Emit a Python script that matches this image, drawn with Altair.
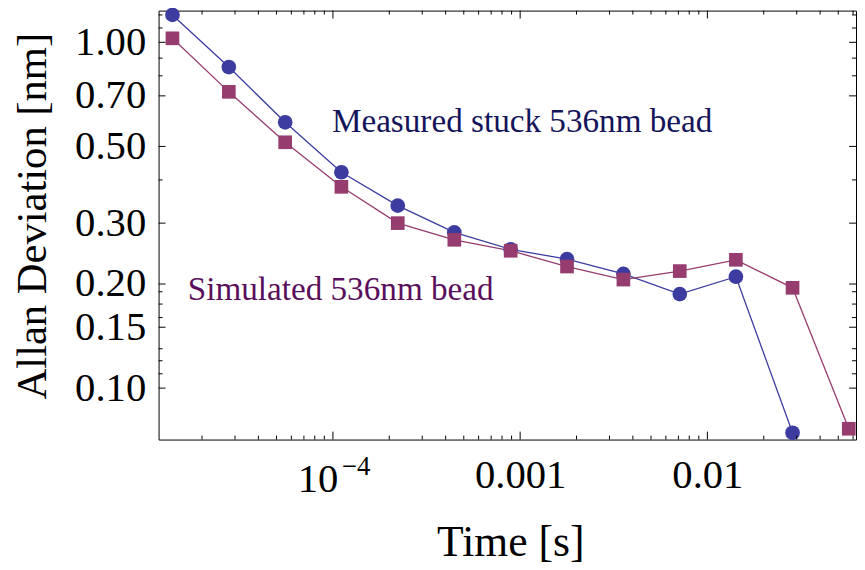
import altair as alt
import pandas as pd

# ---- data ----
time_s = [1.39e-5, 2.78e-5, 5.56e-5, 1.11e-4, 2.22e-4, 4.45e-4, 8.90e-4,
          1.78e-3, 3.56e-3, 7.12e-3, 1.42e-2, 2.85e-2, 5.69e-2]
measured = [1.20, 0.848, 0.587, 0.421, 0.337, 0.282, 0.252, 0.236, 0.214,
            0.187, 0.210, 0.0743]
simulated = [1.027, 0.719, 0.514, 0.382, 0.300, 0.2685, 0.2496, 0.2247, 0.206,
             0.218, 0.235, 0.195, 0.0763]

y_major = [0.10, 0.15, 0.20, 0.30, 0.50, 0.70, 1.00]
y_minor = [0.11, 0.12, 0.13, 0.16, 0.175, 0.19, 0.4, 0.8, 0.9, 1.1, 1.2]
x_major = [1e-4, 1e-3, 1e-2]
x_minor = [2e-5, 3e-5, 4e-5, 5e-5, 6e-5, 7e-5, 8e-5, 9e-5,
           2e-4, 3e-4, 4e-4, 5e-4, 6e-4, 7e-4, 8e-4, 9e-4,
           2e-3, 3e-3, 4e-3, 5e-3, 6e-3, 7e-3, 8e-3, 9e-3,
           2e-2, 3e-2, 4e-2, 5e-2, 6e-2]

ann_text = ["Measured stuck 536nm bead", "Simulated 536nm bead"]
ann_x = [1.025e-3, 1.10e-4]
ann_y = [0.552, 0.180]
ann_color = ["#14145a", "#5a0f5c"]

W, H = 704, 433
FONT = "Liberation Serif"
C_MEAS = "#3c3ca0"
C_SIM = "#963c6e"

df_meas = pd.DataFrame({"t": time_s[:len(measured)], "v": measured})
df_sim = pd.DataFrame({"t": time_s[:len(simulated)], "v": simulated})
df_ann = pd.DataFrame({"t": ann_x, "v": ann_y, "label": ann_text, "c": ann_color})

xs = alt.Scale(type="log", domain=[1.172e-5, 0.0622], nice=False)
ys = alt.Scale(type="log", domain=[0.0710, 1.235], nice=False)

x_axis = alt.Axis(values=x_major, ticks=False, domain=False, grid=False,
                  labelExpr="datum.value == 0.001 ? '0.001' : (datum.value == 0.01 ? '0.01' : '')",
                  labelFont=FONT, labelFontSize=41, labelColor="black",
                  labelBaseline="alphabetic", labelPadding=48,
                  title="Time [s]", titleFont=FONT, titleFontSize=44,
                  titleFontWeight="normal", titleColor="black",
                  titleBaseline="alphabetic", titleY=117, titleX=355)
y_axis = alt.Axis(values=y_major, format=".2f", ticks=False, domain=False, grid=False,
                  labelFont=FONT, labelFontSize=41, labelColor="black",
                  labelPadding=13,
                  title="Allan Deviation [nm]", titleFont=FONT, titleFontSize=43,
                  titleFontWeight="normal", titleColor="black",
                  titleBaseline="alphabetic", titleX=-114, titleY=207)


def X():
    return alt.X("t:Q", scale=xs, axis=x_axis)


def Y():
    return alt.Y("v:Q", scale=ys, axis=y_axis)


line_meas = alt.Chart(df_meas).mark_line(color=C_MEAS, strokeWidth=1.3).encode(x=X(), y=Y())
line_sim = alt.Chart(df_sim).mark_line(color=C_SIM, strokeWidth=1.3).encode(x=X(), y=Y())
pts_meas = alt.Chart(df_meas).mark_point(shape="circle", filled=True, opacity=1,
                                         color=C_MEAS, size=220).encode(x=X(), y=Y())
pts_sim = alt.Chart(df_sim).mark_point(shape="square", filled=True, opacity=1,
                                       color=C_SIM, size=190).encode(x=X(), y=Y())

ann = alt.Chart(df_ann).mark_text(font=FONT, fontSize=33.5, align="center",
                                  baseline="alphabetic").encode(
    x=X(), y=Y(), text="label:N", color=alt.Color("c:N", scale=None))

# inward frame ticks
df_ymaj = pd.DataFrame({"v": y_major})
df_ymin = pd.DataFrame({"v": y_minor})
df_xmaj = pd.DataFrame({"t": x_major})
df_xmin = pd.DataFrame({"t": x_minor})


def yticks(df, L):
    left = alt.Chart(df).mark_rule(color="black", strokeWidth=1).encode(
        y=Y(), x=alt.value(0), x2=alt.value(L))
    right = alt.Chart(df).mark_rule(color="black", strokeWidth=1).encode(
        y=Y(), x=alt.value(W), x2=alt.value(W - L))
    return [left, right]


def xticks(df, L):
    bot = alt.Chart(df).mark_rule(color="black", strokeWidth=1).encode(
        x=X(), y=alt.value(H), y2=alt.value(H - L))
    top = alt.Chart(df).mark_rule(color="black", strokeWidth=1).encode(
        x=X(), y=alt.value(0), y2=alt.value(L))
    return [bot, top]


ticks = yticks(df_ymaj, 7) + yticks(df_ymin, 4) + xticks(df_xmaj, 8) + xticks(df_xmin, 4)

# 10^-4 label
df_e4 = pd.DataFrame({"t": [1e-4]})
lab10 = alt.Chart(df_e4).mark_text(text="10", font=FONT, fontSize=41, align="center",
                                   baseline="alphabetic", dx=-15, color="black").encode(
    x=X(), y=alt.value(486))
labexp = alt.Chart(df_e4).mark_text(text="\u22124", font=FONT, fontSize=27, align="left",
                                    baseline="alphabetic", dx=9, color="black").encode(
    x=X(), y=alt.value(469))

chart = alt.layer(line_meas, line_sim, pts_meas, pts_sim, ann, lab10, labexp, *ticks).properties(
    width=W, height=H,
    padding={"left": 152, "top": 0, "right": 1, "bottom": 125},
    autosize=alt.AutoSizeParams(type="none"),
    background="white",
).configure_view(stroke="black", strokeWidth=1)

chart.save("out.html", embed_options={"renderer": "svg", "actions": False})
